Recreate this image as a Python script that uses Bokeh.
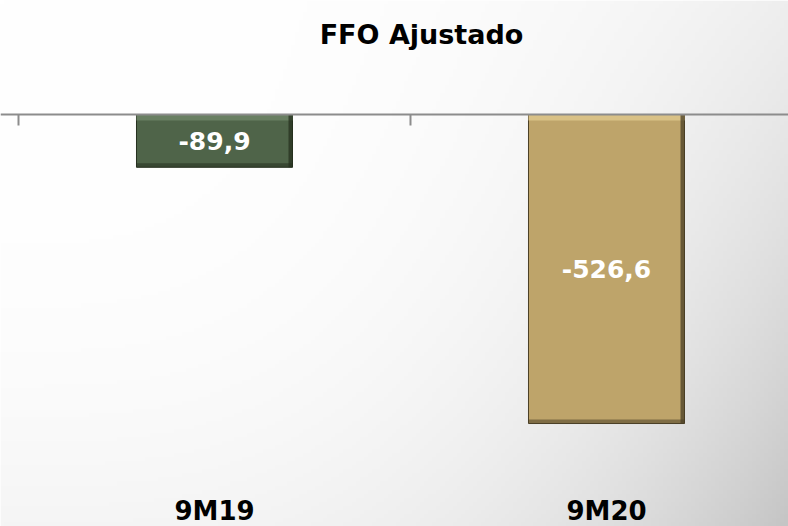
import numpy as np
from bokeh.plotting import figure
from bokeh.models import Range1d, ColumnDataSource, Label, LabelSet
from bokeh.core.properties import value
from bokeh.embed import file_html
from bokeh.resources import INLINE

# ---- data ----
categories = ["9M19", "9M20"]
values = [-89.9, -526.6]
value_labels = ["-89,9", "-526,6"]
bar_colors = ["#4F6449", "#BEA46A"]
edge_colors = ["#26301F", "#4A3F26"]
highlight_colors = ["#6C8265", "#DCC489"]
title_text = "FFO Ajustado"

W, H = 788, 526
x_start, x_end = -0.04592, 1.96429
y_start, y_end = -702.1, 194.3
px_per_x = W / (x_end - x_start)
px_per_y = H / (y_end - y_start)

p = figure(width=W, height=H, output_backend="svg", toolbar_location=None,
           x_range=Range1d(x_start, x_end), y_range=Range1d(y_start, y_end),
           min_border=0)
p.axis.visible = False
p.grid.visible = False
p.outline_line_color = None
p.border_fill_color = "#FFFFFF"

# background gradient (decoration)
ny, nx = 130, 195
xs = np.linspace(0, 1, nx)
ys = np.linspace(0, 1, ny)  # 0 = bottom, 1 = top
X, Y = np.meshgrid(xs, ys)
depth = 1 - Y
v = 255 - 48 * (X ** 3) * (0.35 + 0.65 * depth) - 10 * depth ** 3
v = np.clip(v, 0, 255).astype(np.uint8)
img = np.empty((ny, nx), dtype=np.uint32)
view = img.view(dtype=np.uint8).reshape((ny, nx, 4))
view[:, :, 0] = v
view[:, :, 1] = v
view[:, :, 2] = v
view[:, :, 3] = 255
p.image_rgba(image=[img], x=x_start, y=y_start, dw=x_end - x_start, dh=y_end - y_start)

centers = [i + 0.5 for i in range(len(categories))]
bar_w = 0.398
src = ColumnDataSource(dict(
    x=centers, top=[0] * len(values), bottom=values,
    left=[c - bar_w / 2 for c in centers], right=[c + bar_w / 2 for c in centers],
    color=bar_colors, edge=edge_colors, hi=highlight_colors,
    lab=value_labels, mid=[v_ / 2 for v_ in values], cat=categories,
))

# bars
p.quad(left="left", right="right", top="top", bottom="bottom", source=src,
       fill_color="color", line_color="edge", line_width=1)
# bevel: dark right and bottom edges, light top strip
rw = 4 / px_per_x
bh = 4 / px_per_y
th = 6 / px_per_y
src_b = ColumnDataSource(dict(
    l=[r - rw for r in src.data["right"]], r=src.data["right"],
    t=src.data["top"], b=src.data["bottom"], edge=edge_colors, hi=highlight_colors,
    L=src.data["left"], bb=[b + bh for b in src.data["bottom"]],
    tt=[-th] * len(values),
))
p.quad(left="L", right="r", top="tt", bottom="t", source=src_b,
       fill_color="hi", line_color=None, fill_alpha=0.9)
p.quad(left="L", right="r", top="bb", bottom="b", source=src_b,
       fill_color="edge", line_color=None, fill_alpha=0.55)
p.quad(left="l", right="r", top="t", bottom="b", source=src_b,
       fill_color="edge", line_color=None, fill_alpha=0.75)

# axis line at zero and tick marks at category boundaries
p.line(x=[x_start, x_end], y=[0, 0], line_color="#8C8C8C", line_width=2)
bounds = list(range(len(categories) + 1))
tick = 11 / px_per_y
p.segment(x0=bounds, y0=[0] * len(bounds), x1=bounds, y1=[-tick] * len(bounds),
          line_color="#8C8C8C", line_width=2)

# value labels
p.text(x="x", y="mid", text="lab", source=src, text_align="center",
       text_baseline="middle", text_color="white", text_font=value("DejaVu Sans"),
       text_font_style="bold", text_font_size="25px")

# category labels
p.add_layout(LabelSet(x="x", y=7, y_units="screen", text="cat", source=src,
                      text_align="center", text_baseline="alphabetic",
                      text_color="black", text_font=value("DejaVu Sans"),
                      text_font_style="bold", text_font_size="26px"))

# title
p.add_layout(Label(x=421, y=492, x_units="screen", y_units="screen", text=title_text,
                   text_align="center", text_baseline="alphabetic", text_color="black",
                   text_font="DejaVu Sans", text_font_style="bold",
                   text_font_size="27px"))

open("out.html", "w").write(file_html(p, INLINE))
